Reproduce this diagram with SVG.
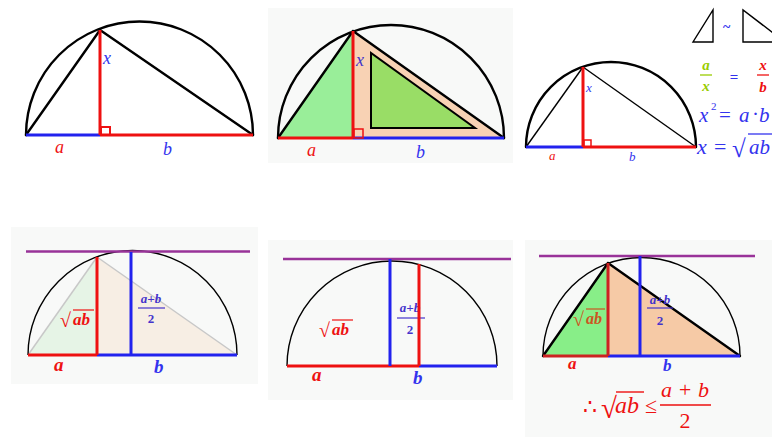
<svg xmlns="http://www.w3.org/2000/svg" width="772" height="437" viewBox="0 0 772 437">
<style>
.bk{fill:none;stroke:#000;stroke-width:2.4;stroke-linecap:round}
.bkt{fill:none;stroke:#000;stroke-width:1.4}
.rd{stroke:#ee1111;stroke-width:3;fill:none}
.bl{stroke:#2222ee;stroke-width:3;fill:none}
.pu{stroke:#993399;stroke-width:2.5}
.gr{fill:none;stroke:#c8c8c8;stroke-width:1.5}
.lbl{font-family:"Liberation Serif",serif;font-style:italic}
.r{fill:#ee1111}.b{fill:#3333ee}
.pb{fill:#4433cc}
.up{font-family:"Liberation Serif",serif;font-style:normal}
</style>
<rect width="772" height="437" fill="#fff"/>

<g id="panel1">
<path class="bk" d="M26,135 A113.5,113.5 0 0 1 253,135"/>
<line class="bk" x1="26" y1="135" x2="100" y2="30"/>
<line class="bk" x1="100" y1="30" x2="253" y2="135"/>
<line class="bl" x1="26" y1="135" x2="100" y2="135"/>
<line class="rd" x1="100" y1="135" x2="253" y2="135"/>
<line class="rd" x1="100" y1="30" x2="100" y2="135"/>
<rect x="101" y="127" width="9" height="8" fill="none" stroke="#ee1111" stroke-width="2"/>
<text class="lbl b" x="103" y="64" font-size="18">x</text>
<text class="lbl r" x="55" y="153" font-size="18">a</text>
<text class="lbl b" x="163" y="155" font-size="18">b</text>
</g>

<g id="panel2">
<rect x="268" y="8" width="245" height="155" fill="#f8f9f8"/>
<polygon points="278,138 353,31 353,138" fill="#99ee99"/>
<polygon points="353,31 353,138 504,138" fill="#f8d2b4"/>
<path class="bk" d="M278,138 A113,113 0 0 1 504,138"/>
<line class="bk" x1="278" y1="138" x2="353" y2="31"/>
<line class="bk" x1="353" y1="31" x2="504" y2="138"/>
<polygon points="371,53 371,128 475,128" fill="#99dd66" stroke="#000" stroke-width="2"/>
<line class="rd" x1="278" y1="138" x2="353" y2="138"/>
<line class="bl" x1="353" y1="138" x2="504" y2="138"/>
<line class="rd" x1="353" y1="31" x2="353" y2="138"/>
<rect x="354" y="129" width="9" height="9" fill="none" stroke="#ee1111" stroke-width="1.5"/>
<text class="lbl pb" x="356" y="66" font-size="18">x</text>
<text class="lbl r" x="307" y="156" font-size="18">a</text>
<text class="lbl b" x="416" y="158" font-size="18">b</text>
</g>

<g id="panel3">
<polygon class="bkt" points="693,42 713,42 713,10"/>
<text class="up b" x="723" y="32" font-size="14" font-weight="bold">~</text>
<polygon class="bkt" points="743,10 743,42 785,42"/>
<text class="lbl" x="706" y="70" font-size="15" font-weight="bold" fill="#99cc00" text-anchor="middle">a</text>
<line x1="700" y1="75" x2="712" y2="75" stroke="#99cc00" stroke-width="1.3"/>
<text class="lbl" x="706" y="91" font-size="15" font-weight="bold" fill="#99cc00" text-anchor="middle">x</text>
<text class="up b" x="734" y="82" font-size="15" font-weight="bold" text-anchor="middle">=</text>
<text class="lbl r" x="763" y="70" font-size="15" font-weight="bold" text-anchor="middle">x</text>
<line x1="757" y1="75" x2="769" y2="75" stroke="#ee1111" stroke-width="1.3"/>
<text class="lbl r" x="763" y="92" font-size="15" font-weight="bold" text-anchor="middle">b</text>
<text class="lbl b" x="699" y="122" font-size="21">x</text>
<text class="up b" x="711" y="110" font-size="11">2</text>
<text class="up b" x="719" y="122" font-size="21">=</text>
<text class="lbl b" x="739" y="122" font-size="21">a</text>
<text class="up b" x="752" y="121" font-size="21">·</text>
<text class="lbl b" x="759" y="122" font-size="21">b</text>
<text class="lbl b" x="697" y="154" font-size="22">x</text>
<text class="up b" x="714" y="154" font-size="22">=</text>
<text class="up b" x="732" y="157" font-size="25">√</text>
<line x1="748" y1="134" x2="772" y2="134" stroke="#3333ee" stroke-width="1.3"/>
<text class="lbl b" x="749" y="154" font-size="21">ab</text>
<path class="bk" d="M526,147 A85,85 0 0 1 696,147" stroke-width="2"/>
<line class="bkt" x1="526" y1="147" x2="583" y2="67" stroke-width="1.8"/>
<line class="bkt" x1="583" y1="67" x2="696" y2="147" stroke-width="1.8"/>
<line class="bl" x1="526" y1="147" x2="583" y2="147"/>
<line class="rd" x1="583" y1="147" x2="696" y2="147"/>
<line class="rd" x1="583" y1="67" x2="583" y2="147"/>
<rect x="584" y="140" width="7" height="7" fill="none" stroke="#ee1111" stroke-width="1.5"/>
<text class="lbl b" x="586" y="92" font-size="13">x</text>
<text class="lbl r" x="549" y="160" font-size="13">a</text>
<text class="lbl b" x="629" y="161" font-size="13">b</text>
</g>

<g id="panel4">
<rect x="11" y="227" width="247" height="157" fill="#f8f9f8"/>
<polygon points="28,355 97,257 97,355" fill="#e6f4e6"/>
<polygon points="97,257 97,355 237,355" fill="#f7eee4"/>
<line class="gr" x1="28" y1="355" x2="97" y2="257"/>
<line class="gr" x1="97" y1="257" x2="237" y2="355"/>
<path class="bkt" d="M28,355 A104.5,104.5 0 0 1 237,355"/>
<line class="pu" x1="26" y1="251.5" x2="250" y2="251.5"/>
<line class="rd" x1="28" y1="355" x2="97" y2="355"/>
<line class="bl" x1="97" y1="355" x2="237" y2="355"/>
<line class="rd" x1="97" y1="257" x2="97" y2="355"/>
<line class="bl" x1="131" y1="252" x2="131" y2="355"/>
<text class="up r" x="60" y="327" font-size="20">√</text>
<line x1="73" y1="310" x2="94" y2="310" stroke="#ee1111" stroke-width="1.2"/>
<text class="lbl r" x="73" y="325" font-size="17" font-weight="bold">ab</text>
<text class="lbl pb" x="151" y="303" font-size="13" font-weight="bold" text-anchor="middle">a+b</text>
<line x1="138" y1="308" x2="165" y2="308" stroke="#4433cc" stroke-width="1.2"/>
<text class="up pb" x="151" y="323" font-size="13" font-weight="bold" text-anchor="middle">2</text>
<text class="lbl r" x="54" y="371" font-size="19" font-weight="bold">a</text>
<text class="lbl b" x="154" y="373" font-size="19" font-weight="bold">b</text>
</g>

<g id="panel5">
<rect x="268" y="240" width="245" height="160" fill="#f8f9f8"/>
<path class="bkt" d="M287,366 A105,105 0 0 1 497,366"/>
<line class="pu" x1="283" y1="259" x2="511" y2="259"/>
<line class="rd" x1="287" y1="366" x2="419" y2="366"/>
<line class="bl" x1="419" y1="366" x2="497" y2="366"/>
<line class="bl" x1="390" y1="259" x2="390" y2="366"/>
<text class="lbl pb" x="410" y="312" font-size="13" font-weight="bold" text-anchor="middle">a+b</text>
<line x1="397" y1="318" x2="425" y2="318" stroke="#4433cc" stroke-width="1.2"/>
<text class="up pb" x="410" y="334" font-size="13" font-weight="bold" text-anchor="middle">2</text>
<line class="rd" x1="419" y1="264" x2="419" y2="366"/>
<text class="up r" x="319" y="337" font-size="20">√</text>
<line x1="332" y1="320" x2="353" y2="320" stroke="#ee1111" stroke-width="1.2"/>
<text class="lbl r" x="332" y="335" font-size="17" font-weight="bold">ab</text>
<text class="lbl r" x="312" y="381" font-size="19" font-weight="bold">a</text>
<text class="lbl b" x="413" y="384" font-size="19" font-weight="bold">b</text>
</g>

<g id="panel6">
<rect x="525" y="240" width="247" height="197" fill="#f8f9f8"/>
<polygon points="543,356 608,263 608,356" fill="#88ee88"/>
<polygon points="608,263 608,356 740,356" fill="#f6caa6"/>
<path class="bkt" d="M543,356 A98.5,98.5 0 0 1 740,356"/>
<line class="pu" x1="539" y1="256" x2="755" y2="256"/>
<line class="bk" x1="543" y1="356" x2="608" y2="263"/>
<line class="bk" x1="608" y1="263" x2="740" y2="356"/>
<line class="bl" x1="640" y1="256" x2="640" y2="356"/>
<line x1="543" y1="356" x2="608" y2="356" stroke="#cc2222" stroke-width="3"/>
<line class="bl" x1="608" y1="356" x2="740" y2="356"/>
<line x1="608" y1="263" x2="608" y2="356" stroke="#cc2222" stroke-width="3"/>
<text class="up" x="573" y="326" font-size="20" fill="#cc5522">√</text>
<line x1="586" y1="309" x2="605" y2="309" stroke="#cc5522" stroke-width="1.2"/>
<text class="lbl" x="586" y="324" font-size="16" font-weight="bold" fill="#cc5522">ab</text>
<text class="lbl pb" x="660" y="304" font-size="13" font-weight="bold" text-anchor="middle">a+b</text>
<line x1="647" y1="308" x2="673" y2="308" stroke="#4433cc" stroke-width="1.2"/>
<text class="up pb" x="660" y="325" font-size="13" font-weight="bold" text-anchor="middle">2</text>
<text class="lbl r" x="568" y="369" font-size="17" font-weight="bold">a</text>
<text class="lbl b" x="663" y="371" font-size="17" font-weight="bold">b</text>
<text class="up r" x="583" y="414" font-size="22">∴</text>
<text class="up r" x="601" y="418" font-size="29">√</text>
<line x1="616" y1="392" x2="644" y2="392" stroke="#ee1111" stroke-width="1.4"/>
<text class="lbl r" x="615" y="413" font-size="24">ab</text>
<text class="up r" x="645" y="413" font-size="22">≤</text>
<text class="lbl r" x="685" y="397" font-size="22" text-anchor="middle">a + b</text>
<line x1="660" y1="405" x2="711" y2="405" stroke="#ee1111" stroke-width="1.4"/>
<text class="up r" x="685" y="428" font-size="22" text-anchor="middle">2</text>
</g>
</svg>
